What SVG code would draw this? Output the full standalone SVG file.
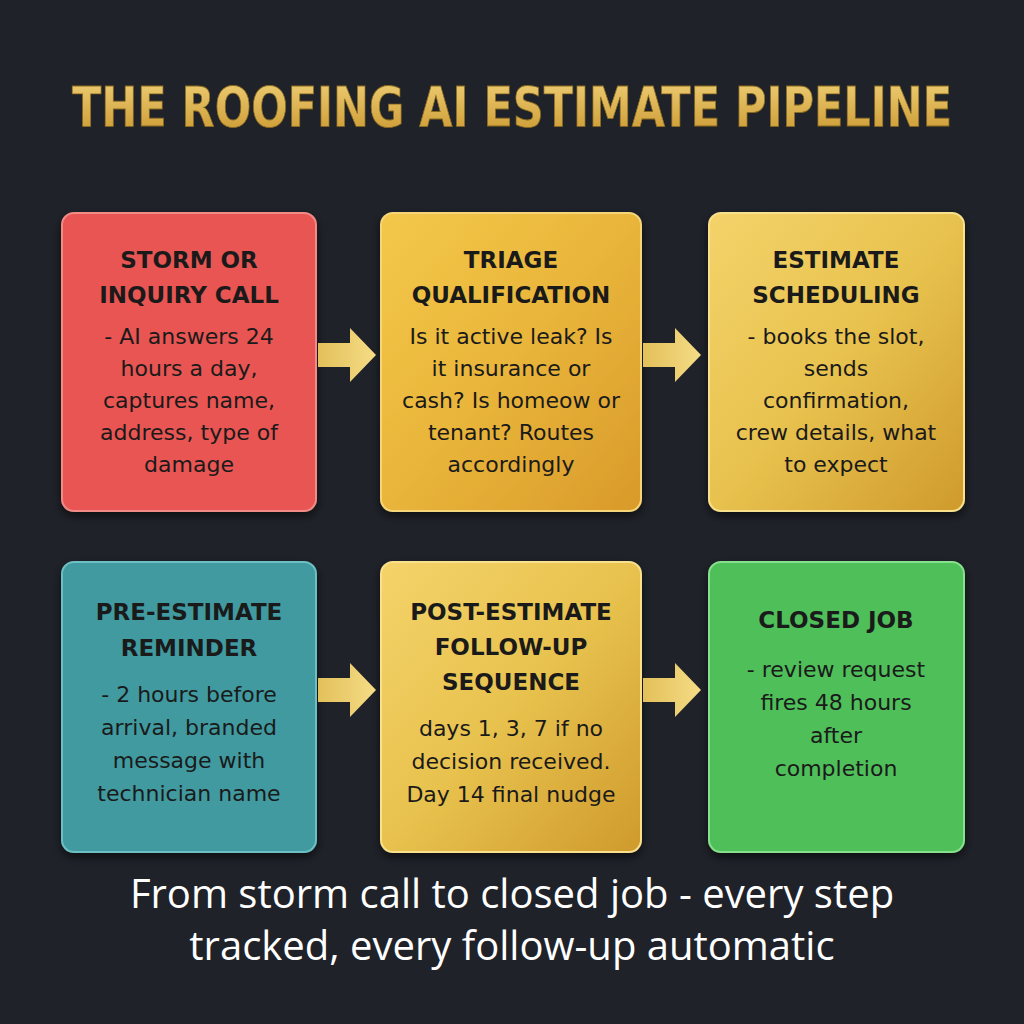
<svg xmlns="http://www.w3.org/2000/svg" width="1024" height="1024" viewBox="0 0 1024 1024">
<defs>
<linearGradient id="gold" x1="0" y1="0" x2="1" y2="1"><stop offset="0" stop-color="#f3c84a"/><stop offset="0.5" stop-color="#e9b53a"/><stop offset="1" stop-color="#d99a2a"/></linearGradient>
<linearGradient id="gold2" x1="0" y1="0" x2="1" y2="1"><stop offset="0" stop-color="#f4d36a"/><stop offset="0.5" stop-color="#e8c24e"/><stop offset="1" stop-color="#cf9a2c"/></linearGradient>
<linearGradient id="tg" x1="0" y1="0" x2="0" y2="1"><stop offset="0" stop-color="#f1d27a"/><stop offset="1" stop-color="#c9962e"/></linearGradient>
<linearGradient id="ag" x1="0" y1="0" x2="1" y2="0"><stop offset="0" stop-color="#e3c05a"/><stop offset="1" stop-color="#f5dc86"/></linearGradient>
<filter id="sh" x="-10%" y="-10%" width="120%" height="125%"><feDropShadow dx="0" dy="4" stdDeviation="5" flood-color="#000" flood-opacity="0.6"/></filter>
</defs>
<style>
.h{font-family:"DejaVu Sans",sans-serif;font-weight:bold;font-size:23px;fill:#1a1a1a;text-anchor:middle}
.b{font-family:"DejaVu Sans",sans-serif;font-size:22px;fill:#1a1a1a;text-anchor:middle}
.box{stroke-width:2;filter:url(#sh)}
</style>
<rect width="1024" height="1024" fill="#1f2229"/>
<text x="512" y="126" text-anchor="middle" textLength="880" lengthAdjust="spacingAndGlyphs" font-family="'DejaVu Sans Condensed','DejaVu Sans',sans-serif" font-weight="bold" font-size="56" fill="url(#tg)" stroke="#8a6a20" stroke-width="0.8">THE ROOFING AI ESTIMATE PIPELINE</text>
<g id="n1"><rect class="box" x="62" y="213" width="254" height="298" rx="12" fill="#e85552" stroke="#f28a86"/>
<text class="h" x="189" y="268">STORM OR</text><text class="h" x="189" y="303">INQUIRY CALL</text>
<text class="b" x="189" y="344">- AI answers 24</text><text class="b" x="189" y="376">hours a day,</text><text class="b" x="189" y="408">captures name,</text><text class="b" x="189" y="440">address, type of</text><text class="b" x="189" y="472">damage</text></g>
<g id="n2"><rect class="box" x="381" y="213" width="260" height="298" rx="12" fill="url(#gold)" stroke="#f6d57a"/>
<text class="h" x="511" y="268">TRIAGE</text><text class="h" x="511" y="303">QUALIFICATION</text>
<text class="b" x="511" y="344">Is it active leak? Is</text><text class="b" x="511" y="376">it insurance or</text><text class="b" x="511" y="408">cash? Is homeow or</text><text class="b" x="511" y="440">tenant? Routes</text><text class="b" x="511" y="472">accordingly</text></g>
<g id="n3"><rect class="box" x="709" y="213" width="255" height="298" rx="12" fill="url(#gold2)" stroke="#f8e08c"/>
<text class="h" x="836" y="268">ESTIMATE</text><text class="h" x="836" y="303">SCHEDULING</text>
<text class="b" x="836" y="344">- books the slot,</text><text class="b" x="836" y="376">sends</text><text class="b" x="836" y="408">confirmation,</text><text class="b" x="836" y="440">crew details, what</text><text class="b" x="836" y="472">to expect</text></g>
<g id="n4"><rect class="box" x="62" y="562" width="254" height="290" rx="12" fill="#3f9aa0" stroke="#6cc0c4"/>
<text class="h" x="189" y="620">PRE-ESTIMATE</text><text class="h" x="189" y="656">REMINDER</text>
<text class="b" x="189" y="702">- 2 hours before</text><text class="b" x="189" y="735">arrival, branded</text><text class="b" x="189" y="768">message with</text><text class="b" x="189" y="801">technician name</text></g>
<g id="n5"><rect class="box" x="381" y="562" width="260" height="290" rx="12" fill="url(#gold2)" stroke="#f8e08c"/>
<text class="h" x="511" y="620">POST-ESTIMATE</text><text class="h" x="511" y="655">FOLLOW-UP</text><text class="h" x="511" y="690">SEQUENCE</text>
<text class="b" x="511" y="736">days 1, 3, 7 if no</text><text class="b" x="511" y="769">decision received.</text><text class="b" x="511" y="802">Day 14 final nudge</text></g>
<g id="n6"><rect class="box" x="709" y="562" width="255" height="290" rx="12" fill="#4fbf5a" stroke="#86e08c"/>
<text class="h" x="836" y="628">CLOSED JOB</text>
<text class="b" x="836" y="677">- review request</text><text class="b" x="836" y="710">fires 48 hours</text><text class="b" x="836" y="743">after</text><text class="b" x="836" y="776">completion</text></g>
<g id="connectors" fill="url(#ag)">
<polygon points="318,343 350,343 350,328 376,355 350,382 350,367 318,367"/>
<polygon points="643,343 675,343 675,328 701,355 675,382 675,367 643,367"/>
<polygon points="318,678 350,678 350,663 376,690 350,717 350,702 318,702"/>
<polygon points="643,678 675,678 675,663 701,690 675,717 675,702 643,702"/>
</g>
<text x="512" y="908" text-anchor="middle" font-family="'Open Sans',sans-serif" font-size="40" fill="#ffffff">From storm call to closed job - every step</text>
<text x="512" y="960" text-anchor="middle" font-family="'Open Sans',sans-serif" font-size="40" fill="#ffffff">tracked, every follow-up automatic</text>
</svg>
